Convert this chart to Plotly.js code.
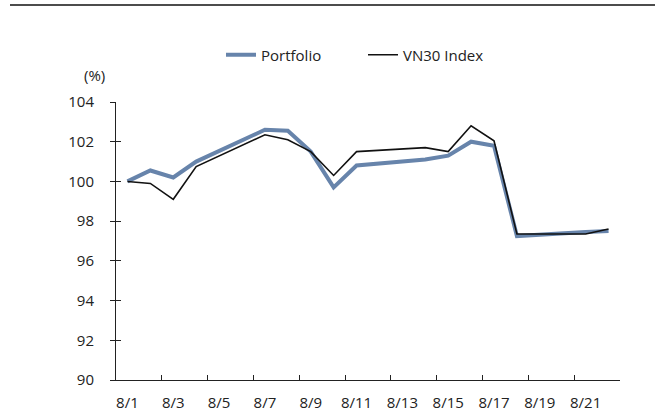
<!DOCTYPE html>
<html>
<head>
<meta charset="utf-8">
<script src="https://cdn.plot.ly/plotly-3.0.1.min.js"></script>
<style>html,body{margin:0;padding:0;background:#fff;}#chart{width:655px;height:414px;}</style>
</head>
<body>
<div id="chart"></div>
<script>
// All calendar days on the axis
const allDays = ['8/1','8/2','8/3','8/4','8/5','8/6','8/7','8/8','8/9','8/10','8/11','8/12','8/13','8/14','8/15','8/16','8/17','8/18','8/19','8/20','8/21','8/22'];
// Trading days with data
const tradeDays = ['8/1','8/2','8/3','8/4','8/7','8/8','8/9','8/10','8/11','8/14','8/15','8/16','8/17','8/18','8/21','8/22'];
const portfolio = [100.0,100.55,100.2,101.0,102.6,102.55,101.5,99.7,100.8,101.1,101.3,102.0,101.8,97.25,97.45,97.5];
const vn30 = [100.0,99.9,99.1,100.75,102.35,102.1,101.5,100.3,101.5,101.7,101.5,102.8,102.05,97.35,97.35,97.6];
const yTicks = [90,92,94,96,98,100,102,104];

const fontFam = 'Open Sans, sans-serif';
const traces = [
  {x: tradeDays, y: portfolio, name: 'Portfolio', type: 'scatter', mode: 'lines',
   line: {color: '#6784ab', width: 4}, hoverinfo: 'skip'},
  {x: tradeDays, y: vn30, name: 'VN30 Index', type: 'scatter', mode: 'lines',
   line: {color: '#111111', width: 1.6}, hoverinfo: 'skip'},
  {x: [tradeDays[0]], y: [portfolio[0]], yaxis: 'y2', type: 'scatter', mode: 'lines',
   showlegend: false, hoverinfo: 'skip', line: {width: 0}, opacity: 0}
];

const layout = {
  width: 655, height: 414,
  margin: {l: 116, r: 35, t: 102, b: 34},
  paper_bgcolor: '#fff', plot_bgcolor: '#fff',
  font: {family: fontFam, size: 15, color: '#222'},
  showlegend: true,
  legend: {orientation: 'h', x: (221 - 116) / 504, xanchor: 'left', y: (380 - 55) / 278, yanchor: 'middle',
           font: {size: 15, color: '#222'}, entrywidth: 97, entrywidthmode: 'pixels', traceorder: 'normal'},
  xaxis: {type: 'category', categoryorder: 'array', categoryarray: allDays,
          range: [-0.5, 21.5], tickmode: 'linear', tick0: 0, dtick: 2, tickangle: 0,
          tickson: 'boundaries', ticks: 'inside', ticklen: 5, tickcolor: '#222',
          showline: true, linecolor: '#222', linewidth: 1, showgrid: false, zeroline: false,
          ticklabelstandoff: 9, tickfont: {size: 15, color: '#222'}},
  yaxis: {range: [90, 104], tickvals: yTicks, ticks: 'outside', ticklen: 5, tickcolor: '#222',
          showline: true, linecolor: '#222', linewidth: 1, showgrid: false, zeroline: false,
          ticklabelstandoff: 13, tickfont: {size: 15, color: '#222'}},
  yaxis2: {overlaying: 'y', anchor: 'x', side: 'left', range: [90, 104], tickvals: yTicks,
           ticks: 'inside', ticklen: 5, tickcolor: '#222', showticklabels: false,
           showline: false, showgrid: false, zeroline: false},
  annotations: [
    {text: '(%)', xref: 'paper', yref: 'paper', x: (94 - 116) / 504, y: (380 - 75) / 278,
     xanchor: 'center', yanchor: 'middle', showarrow: false, font: {size: 15, color: '#222'}}
  ],
  shapes: [
    {type: 'line', xref: 'paper', yref: 'paper', x0: (10 - 116) / 504, x1: (655 - 116) / 504,
     y0: (380 - 5) / 278, y1: (380 - 5) / 278, line: {color: '#111', width: 1.5}}
  ]
};

Plotly.newPlot('chart', traces, layout, {staticPlot: true});
</script>
</body>
</html>
